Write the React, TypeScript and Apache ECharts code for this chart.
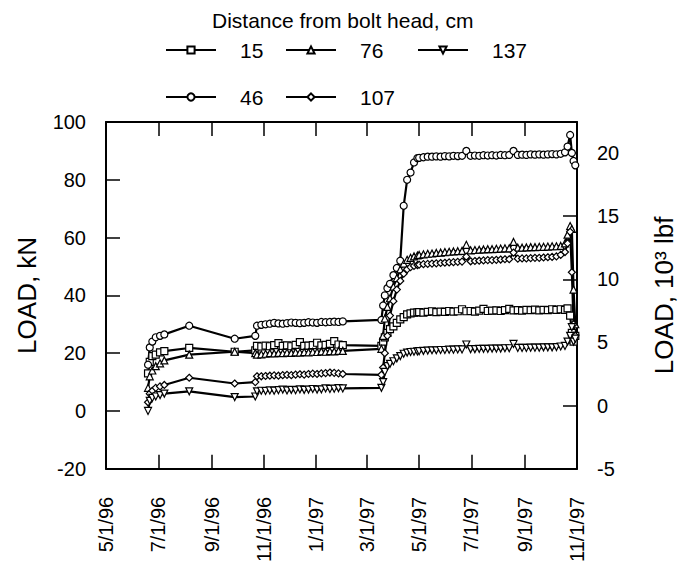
import React, { useEffect, useRef } from "react";
import * as echarts from "echarts";

const dates = [
  "1996-06-19", "1996-06-21", "1996-06-24", "1996-06-28", "1996-07-03", "1996-07-08", "1996-08-06", "1996-09-28", "1996-10-22", "1996-10-24",
  "1996-10-29", "1996-11-03", "1996-11-08", "1996-11-13", "1996-11-18", "1996-11-23", "1996-11-28", "1996-12-03", "1996-12-08", "1996-12-13",
  "1996-12-18", "1996-12-23", "1996-12-28", "1997-01-02", "1997-01-07", "1997-01-12", "1997-01-17", "1997-01-22", "1997-01-27", "1997-02-01",
  "1997-03-18", "1997-03-20", "1997-03-22", "1997-03-25", "1997-03-28", "1997-04-01", "1997-04-05", "1997-04-09", "1997-04-13", "1997-04-17",
  "1997-04-21", "1997-04-25", "1997-04-29",
  "1997-05-01", "1997-05-06", "1997-05-11", "1997-05-16", "1997-05-21", "1997-05-26", "1997-05-31", "1997-06-05", "1997-06-10", "1997-06-15",
  "1997-06-20", "1997-06-25", "1997-06-30", "1997-07-05", "1997-07-10", "1997-07-15", "1997-07-20", "1997-07-25", "1997-07-30", "1997-08-04",
  "1997-08-09", "1997-08-14", "1997-08-19", "1997-08-24", "1997-08-29", "1997-09-03", "1997-09-08", "1997-09-13", "1997-09-18", "1997-09-23",
  "1997-09-28", "1997-10-03", "1997-10-08", "1997-10-13",
  "1997-10-18", "1997-10-21", "1997-10-24", "1997-10-26", "1997-10-28", "1997-10-30",
];

const load15 = [
  13, 17, 19, 19.5, 20.3, 20.7, 21.8, 20.5, 21, 22.5,
  22.3, 22.6, 22.4, 22.8, 23.5, 22.5, 22.7, 22.4, 22.9, 23.8, 22.5, 22.6, 22.8, 23.6, 22.7, 22.9, 23.2, 24.2, 23.0, 22.8,
  22.5, 24, 25.5, 27, 28.3, 29.3, 30.5, 31.7, 32.5, 33.4, 33.8, 34, 34.1,
  34.2, 34.0, 34.3, 34.5, 34.2, 34.4, 34.3, 34.6, 34.4, 34.5, 35.2, 34.5, 34.6, 34.4, 34.7, 35.3, 34.6, 34.7, 34.8, 34.6,
  34.9, 35.3, 34.8, 34.9, 34.7, 35.0, 34.9, 35.1, 34.8, 35.0, 34.9, 35.2, 35.0, 35.2,
  35, 35.5, 33, 27, 24, 26,
];

const load46 = [
  16, 22, 24, 25.5, 26, 26.5, 29.5, 25, 26, 29.5,
  29.8, 30, 30.2, 30.5, 30.3, 30.2, 30.4, 30.6, 30.5, 30.4, 30.5, 30.7, 30.6, 30.5, 30.8, 30.7, 30.8, 30.9, 30.8, 31.0,
  31.5, 36.5, 40, 42.5, 44, 47, 49.5, 52, 71, 80, 82.5, 86, 87.5,
  87.6, 87.8, 88, 88, 88.1, 88, 88.2, 88.1, 88.3, 88.2, 88.3, 90, 88.3, 88.4, 88.3, 88.5, 88.4, 88.5, 88.4, 88.6,
  88.5, 88.6, 90, 88.6, 88.7, 88.6, 88.8, 88.7, 88.8, 88.7, 88.8, 88.9, 88.8, 89.0,
  89.5, 91.5, 95.5, 89.3, 86.5, 85,
];

const load76 = [
  8, 12, 14, 15.5, 16.5, 17.5, 19.5, 20.5, 20, 19.5,
  19.6, 19.8, 20, 19.9, 20.1, 20, 20.2, 20.1, 20.3, 20.2, 20.4, 20.3, 20.5, 20.4, 20.6, 20.5, 20.7, 20.6, 20.8, 20.8,
  21.5, 26, 32, 36, 39, 43, 46, 49, 51, 52.3, 53, 53.5, 53.8,
  54.0, 54.2, 54.4, 54.5, 54.7, 54.8, 55.0, 55.1, 55.2, 55.3, 55.4, 57.5, 55.6, 55.7, 55.8, 55.9, 56.0, 56.0, 56.1, 56.2,
  56.3, 56.3, 58.5, 56.5, 56.5, 56.6, 56.7, 56.7, 56.8, 56.8, 56.9, 57.0, 57.0, 57.1,
  58, 61, 64, 63, 42, 30,
];

const load107 = [
  3, 6, 7, 8, 8.5, 9, 11.5, 9.5, 10, 12,
  12, 12.1, 12.2, 12.3, 12.2, 12.4, 12.5, 12.4, 12.6, 12.7, 12.6, 12.8, 12.9, 12.8, 13.0, 13.1, 13.3, 13.2, 13.0, 12.8,
  12.5, 15, 20, 26, 33, 38, 42, 45, 47.5, 49, 49.8, 50.2, 50.5,
  50.6, 50.8, 50.9, 51.0, 51.1, 51.2, 51.3, 51.4, 51.5, 51.6, 51.7, 53.4, 51.8, 51.9, 52.0, 52.1, 52.2, 52.2, 52.3, 52.4,
  52.5, 52.5, 54.8, 52.7, 52.8, 52.8, 52.9, 53.0, 53.0, 53.1, 53.2, 53.3, 53.5, 54.0,
  55, 58, 62, 48, 30, 26,
];

const load137 = [
  0, 3.5, 4.5, 5, 5.5, 6, 6.8, 4.8, 5, 6.8,
  7.0, 6.9, 7.1, 7.0, 7.2, 7.4, 7.1, 7.3, 7.2, 7.5, 7.3, 7.4, 7.6, 7.4, 7.5, 7.8, 7.6, 7.7, 7.9, 7.8,
  8, 10, 13.5, 15.5, 16.3, 17.2, 18.2, 19, 19.8, 20.2, 20.4, 20.5, 20.6,
  20.7, 20.8, 20.9, 21.0, 21.0, 21.1, 21.1, 21.2, 21.2, 21.3, 21.3, 23.0, 21.4, 21.4, 21.5, 21.5, 21.5, 21.6, 21.6, 21.6,
  21.7, 21.7, 23.2, 21.8, 21.8, 21.8, 21.9, 21.9, 21.9, 22.0, 22.0, 22.0, 22.1, 22.3,
  22.5, 24, 26, 29, 24, 25,
];

const xTickDates = [
  "1996-05-01", "1996-07-01", "1996-09-01", "1996-11-01", "1997-01-01",
  "1997-03-01", "1997-05-01", "1997-07-01", "1997-09-01", "1997-11-01",
];
const rightTicks = [-5, 0, 5, 10, 15, 20];

const seriesDefs = [
  { name: "15", values: load15, symbol: "rect", rotate: 0, size: 7 },
  { name: "46", values: load46, symbol: "circle", rotate: 0, size: 7 },
  { name: "76", values: load76, symbol: "triangle", rotate: 0, size: 7 },
  { name: "107", values: load107, symbol: "diamond", rotate: 0, size: 7 },
  { name: "137", values: load137, symbol: "triangle", rotate: 180, size: 7 },
];

const legendPos: Record<string, [number, number]> = {
  "15": [165, 50],
  "76": [285, 50],
  "137": [417, 50],
  "46": [165, 97],
  "107": [285, 97],
};

const toTime = (s: string) => {
  const [y, m, d] = s.split("-").map(Number);
  return Date.UTC(y, m - 1, d);
};

const FONT = "'Liberation Sans', Arial, Helvetica, sans-serif";

export default function App() {
  const ref = useRef<HTMLDivElement>(null);
  useEffect(() => {
    if (!ref.current) return;
    const chart = echarts.init(ref.current, undefined, { renderer: "svg" });
    const xTicks = xTickDates.map(toTime);
    const fmt = (v: number) => {
      const d = new Date(v);
      return `${d.getUTCMonth() + 1}/${d.getUTCDate()}/${String(d.getUTCFullYear()).slice(2)}`;
    };
    const axisLine = { show: true, onZero: false, lineStyle: { color: "#000", width: 2 } };
    const tickStyle = { color: "#000", width: 1.5 };
    chart.setOption({
      animation: false,
      backgroundColor: "#fff",
      textStyle: { fontFamily: FONT, color: "#000" },
      title: {
        text: "Distance from bolt head, cm",
        left: 212,
        top: 10,
        padding: 0,
        textStyle: { fontFamily: FONT, fontSize: 21, fontWeight: "normal", color: "#000" },
      },
      legend: seriesDefs.map((s) => ({
        left: legendPos[s.name][0],
        top: legendPos[s.name][1] - 11,
        padding: 0,
        itemWidth: 50,
        itemHeight: 9,
        data: [s.name],
        selectedMode: false,
        textStyle: { fontFamily: FONT, fontSize: 21, color: "#000", lineHeight: 22, padding: [0, 0, 0, 19] },
      })),
      grid: { left: 106, right: 103, top: 122, bottom: 95, containLabel: false },
      xAxis: [
        {
          type: "value",
          position: "bottom",
          min: xTicks[0],
          max: xTicks[xTicks.length - 1],
          axisLine,
          splitLine: { show: false },
          axisTick: { show: true, inside: true, length: 14, lineStyle: tickStyle, customValues: xTicks },
          axisLabel: {
            show: true,
            customValues: xTicks,
            rotate: 90,
            margin: 28,
            fontSize: 20,
            fontFamily: FONT,
            color: "#000",
            formatter: fmt,
          },
        },
        {
          type: "value",
          position: "top",
          min: xTicks[0],
          max: xTicks[xTicks.length - 1],
          axisLine,
          splitLine: { show: false },
          axisTick: { show: true, inside: true, length: 14, lineStyle: tickStyle, customValues: xTicks },
          axisLabel: { show: false },
        },
      ],
      yAxis: [
        {
          type: "value",
          position: "left",
          min: -20,
          max: 100,
          interval: 20,
          axisLine,
          splitLine: { show: false },
          axisTick: { show: true, inside: true, length: 14, lineStyle: tickStyle },
          axisLabel: { fontSize: 20, margin: 20, color: "#000", fontFamily: FONT },
          name: "LOAD, kN",
          nameLocation: "middle",
          nameRotate: 90,
          nameGap: 66,
          nameTextStyle: { fontSize: 26, color: "#000", fontFamily: FONT },
        },
        {
          type: "value",
          position: "right",
          min: -5,
          max: 22.45,
          axisLine,
          splitLine: { show: false },
          axisTick: { show: true, inside: true, length: 14, lineStyle: tickStyle, customValues: rightTicks },
          axisLabel: { fontSize: 20, margin: 20, color: "#000", fontFamily: FONT, customValues: rightTicks },
          name: "LOAD, 10³ lbf",
          nameLocation: "middle",
          nameRotate: 90,
          nameGap: 74,
          nameTextStyle: { fontSize: 26, color: "#000", fontFamily: FONT },
        },
      ],
      series: seriesDefs.map((s) => ({
        type: "line",
        name: s.name,
        xAxisIndex: 0,
        yAxisIndex: 0,
        data: dates.map((d, i) => [toTime(d), s.values[i]]),
        symbol: s.symbol,
        symbolRotate: s.rotate,
        symbolSize: s.size,
        showSymbol: true,
        showAllSymbol: true,
        lineStyle: { color: "#000", width: 2.2 },
        itemStyle: { color: "#fff", borderColor: "#000", borderWidth: 1.2 },
        emphasis: { disabled: true },
      })),
    });
    return () => chart.dispose();
  }, []);
  return (
    <div
      ref={ref}
      style={{ position: "fixed", left: 0, top: 0, width: 685, height: 565, background: "#fff" }}
    />
  );
}
